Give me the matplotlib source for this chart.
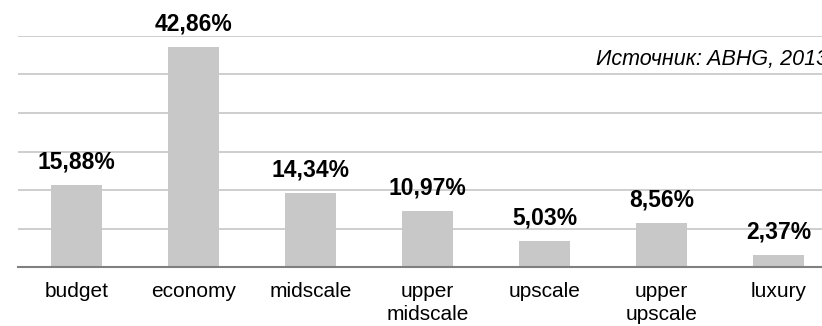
import matplotlib
matplotlib.use('Agg')
import matplotlib.pyplot as plt
import numpy as np

categories = ['budget', 'economy', 'midscale', 'upper\nmidscale', 'upscale', 'upper\nupscale', 'luxury']
shares = [15.88, 42.86, 14.34, 10.97, 5.03, 8.56, 2.37]
source_note = 'Источник: ABHG, 2013'

plt.rcParams['font.family'] = ['Liberation Sans', 'DejaVu Sans']

fig = plt.figure(figsize=(8.22, 3.26), dpi=100)
# axes runs past the right edge, like the clipped original
ax = fig.add_axes([18 / 822, 59 / 326, 819 / 822, 231 / 326])

x = np.arange(len(categories))
ax.bar(x, shares, width=0.43, color='#c8c8c8', zorder=2)

# Value labels
for xi, v in zip(x, shares):
    label = f'{v:.2f}%'.replace('.', ',')
    ax.annotate(label, (xi, v), xytext=(0, 12), textcoords='offset points',
                ha='center', va='baseline', fontsize=16.5, fontweight='bold')

ax.set_xlim(-0.5, len(categories) - 0.5)
ax.set_ylim(0, 45)
ax.set_yticks(np.arange(7.5, 45.1, 7.5))
ax.yaxis.grid(True, color='#c6c6c6', linewidth=1.2, zorder=0)
ax.tick_params(axis='y', left=False, labelleft=False)
ax.set_xticks(x)
ax.set_xticklabels(categories, fontsize=15, linespacing=1.28)
ax.tick_params(axis='x', length=0, pad=11)

for s in ['top', 'right', 'left']:
    ax.spines[s].set_visible(False)
ax.spines['bottom'].set_color('#808080')
ax.spines['bottom'].set_linewidth(1.5)

ax.text(4.44, 39.35, source_note, fontsize=15.5, style='italic', ha='left', va='baseline')

plt.savefig('out.png', dpi=100)
